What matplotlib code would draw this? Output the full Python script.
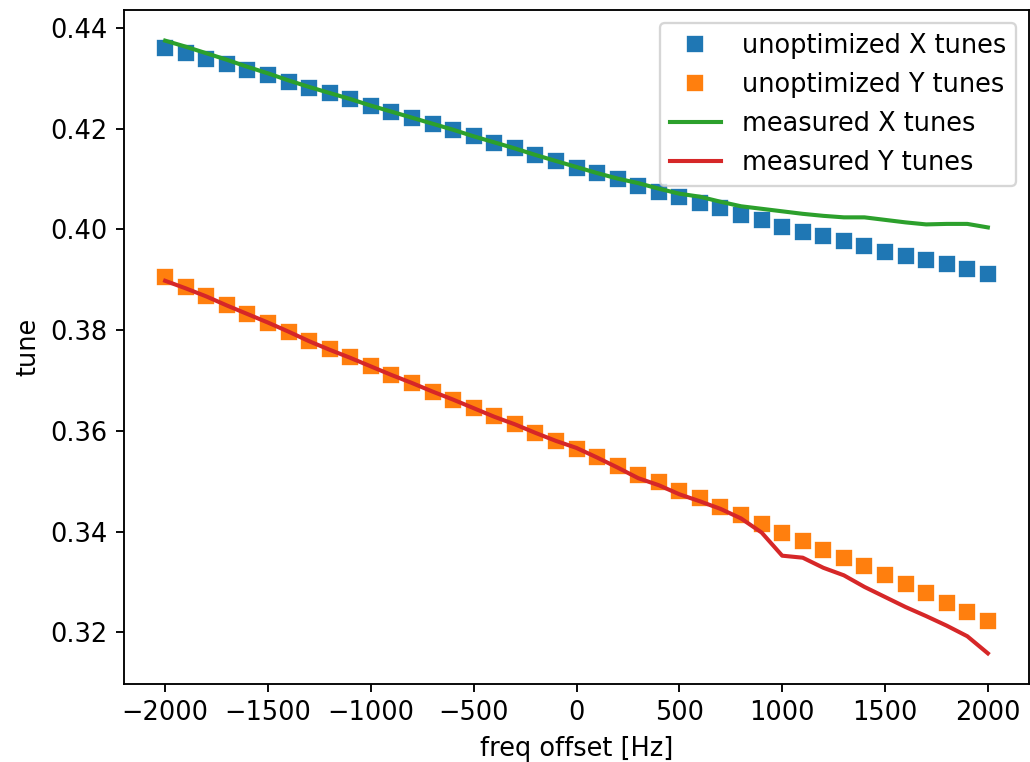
import numpy as np
import matplotlib
matplotlib.use("Agg")
import matplotlib.pyplot as plt

# frequency offsets [Hz]
freq = np.arange(-2000, 2001, 100)

# unoptimized tunes (model)
x_unopt = [0.4361, 0.4350, 0.4339, 0.4328, 0.4317, 0.4306, 0.4293, 0.4281, 0.4271, 0.4259,
           0.4246, 0.4234, 0.4221, 0.4210, 0.4198, 0.4185, 0.4172, 0.4161, 0.4148, 0.4136,
           0.4123, 0.4112, 0.4100, 0.4086, 0.4075, 0.4064, 0.4053, 0.4042, 0.4029, 0.4018,
           0.4005, 0.3995, 0.3986, 0.3977, 0.3967, 0.3956, 0.3948, 0.3940, 0.3931, 0.3922,
           0.3912]
y_unopt = [0.3906, 0.3886, 0.3867, 0.3849, 0.3833, 0.3815, 0.3797, 0.3779, 0.3762, 0.3746,
           0.3729, 0.3711, 0.3695, 0.3678, 0.3662, 0.3646, 0.3629, 0.3613, 0.3596, 0.3580,
           0.3564, 0.3549, 0.3530, 0.3513, 0.3498, 0.3481, 0.3467, 0.3449, 0.3433, 0.3415,
           0.3397, 0.3382, 0.3364, 0.3347, 0.3331, 0.3314, 0.3295, 0.3278, 0.3259, 0.3241,
           0.3223]

# measured tunes
x_meas = [0.4375, 0.4363, 0.4350, 0.4337, 0.4323, 0.4310, 0.4296, 0.4283, 0.4271, 0.4259,
          0.4246, 0.4234, 0.4222, 0.4210, 0.4198, 0.4185, 0.4173, 0.4161, 0.4148, 0.4136,
          0.4124, 0.4112, 0.4101, 0.4092, 0.4081, 0.4071, 0.4065, 0.4055, 0.4046, 0.4041,
          0.4036, 0.4031, 0.4027, 0.4024, 0.4024, 0.4019, 0.4014, 0.4010, 0.4011, 0.4011,
          0.4004]
y_meas = [0.3898, 0.3883, 0.3867, 0.3849, 0.3832, 0.3815, 0.3797, 0.3778, 0.3761, 0.3745,
          0.3728, 0.3711, 0.3695, 0.3678, 0.3662, 0.3645, 0.3628, 0.3613, 0.3596, 0.3580,
          0.3566, 0.3547, 0.3527, 0.3506, 0.3492, 0.3474, 0.3460, 0.3445, 0.3426, 0.3398,
          0.3352, 0.3348, 0.3328, 0.3313, 0.3290, 0.3270, 0.3250, 0.3232, 0.3213, 0.3192,
          0.3158]

plt.rcParams['font.size'] = 11
plt.rcParams['lines.linewidth'] = 1.75

dpi = 168
fig = plt.figure(figsize=(1030/dpi, 762/dpi), dpi=dpi)
ax = fig.add_axes([124/1030, 1 - 684/762, 905/1030, 674/762])

ax.plot(freq, x_unopt, 's', color='C0', markersize=6, label='unoptimized X tunes')
ax.plot(freq, y_unopt, 's', color='C1', markersize=6, label='unoptimized Y tunes')
ax.plot(freq, x_meas, '-', color='C2', label='measured X tunes')
ax.plot(freq, y_meas, '-', color='C3', label='measured Y tunes')

ax.set_xlabel('freq offset [Hz]')
ax.set_ylabel('tune')
ax.legend(loc='upper right')

fig.savefig('out.png', dpi=dpi)
